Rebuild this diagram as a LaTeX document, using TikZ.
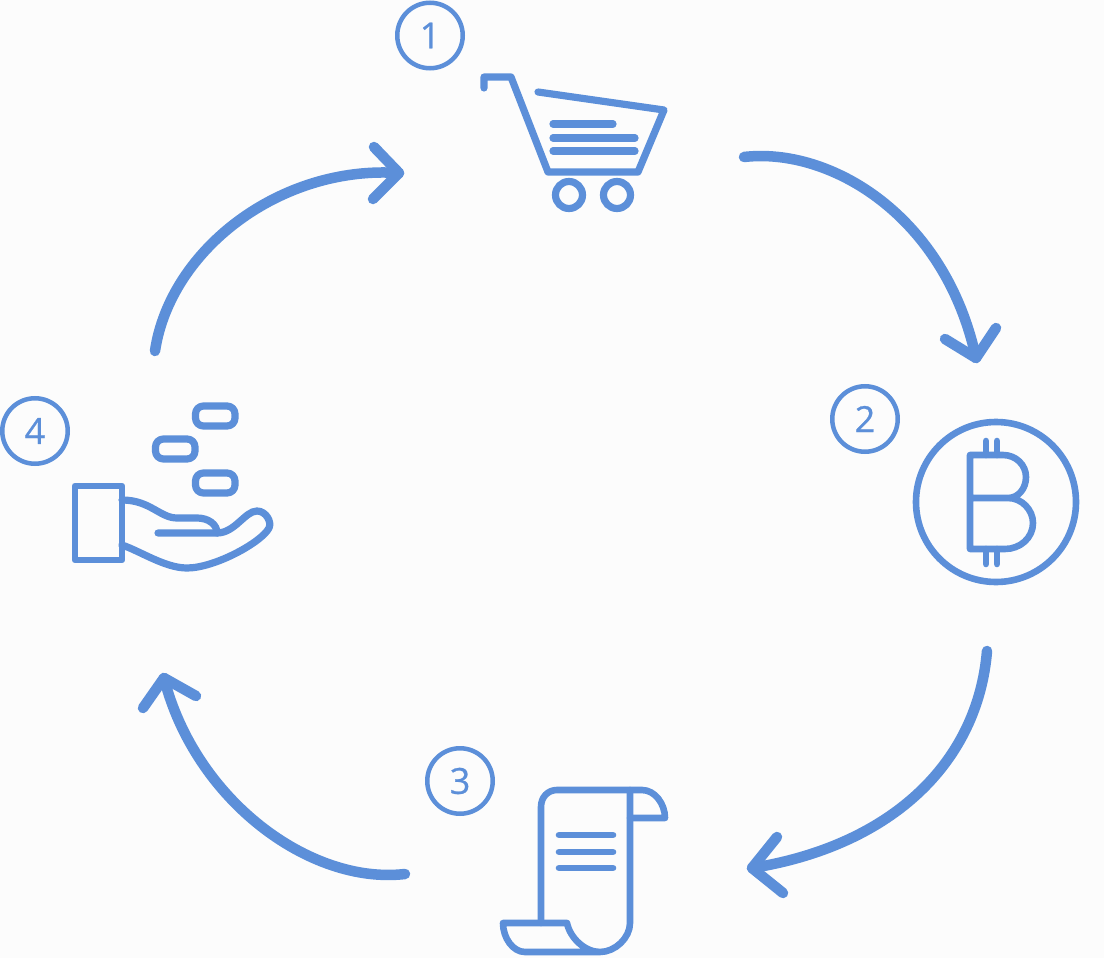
\documentclass[tikz,border=0pt]{standalone}
\usepackage{fontspec}
\setmainfont{Open Sans}
\newfontfamily\numfont[FakeBold=0.7]{Open Sans}
\definecolor{ink}{HTML}{5C8FD9}
\definecolor{paper}{HTML}{FCFCFC}
\tikzset{
  badge/.style={circle,draw=ink,line width=4.5pt,minimum size=65.5pt,inner sep=0pt,text=ink,font=\numfont\fontsize{36}{36}\selectfont},
  flow/.style={draw=ink,line width=10.5pt,line cap=round,line join=round},
  icon/.style={draw=ink,line width=7.2pt,line cap=round,line join=round},
  thinicon/.style={draw=ink,line width=6.6pt,line cap=round,line join=round}
}
\begin{document}
\begin{tikzpicture}[x=1pt,y=-1pt]
\path[use as bounding box,fill=paper] (0,0) rectangle (1104,958);
% badges
\node[badge] (n1) at (430,35.5) {1};
\node[badge] (n2) at (865,419) {2};
\node[badge] (n3) at (460,781) {3};
\node[badge] (n4) at (35,431) {4};
% arrows
\coordinate (a1s) at (744,157); \coordinate (a1e) at (976,358);
\coordinate (a2s) at (987,651); \coordinate (a2e) at (752,868);
\coordinate (a3s) at (405,874); \coordinate (a3e) at (164,678);
\coordinate (a4s) at (155,351); \coordinate (a4e) at (399,173);
\draw[flow] (a1s) .. controls (830,147) and (945,215) .. (a1e);
\draw[flow] (945,339) -- (a1e) -- (996,328);
\draw[flow] (a2s) .. controls (978,760) and (895,845) .. (a2e);
\draw[flow] (777,837) -- (a2e) -- (783,893);
\draw[flow] (a3s) .. controls (310,885) and (195,800) .. (a3e);
\draw[flow] (143,708) -- (a3e) -- (196,696);
\draw[flow] (a4s) .. controls (170,250) and (280,165) .. (a4e);
\draw[flow] (374,147) -- (a4e) -- (373,199);
% cart
\draw[icon] (484,88) -- (484,77) -- (511,77) -- (548,172) -- (638,172) -- (664,110) -- (538,92);
\draw[icon] (569,195) circle (13.5);
\draw[icon] (617,195) circle (13.5);
\draw[icon] (553,124) -- (613,124);
\draw[icon] (553,138) -- (635,138);
\draw[icon] (553,151) -- (635,151);
% bitcoin
\draw[thinicon] (996,502) circle (80);
\draw[thinicon] (1008,498) -- (970,498) -- (970,455) -- (1003,455)
  .. controls (1016,455) and (1026,465) .. (1026,477)
  .. controls (1026,489) and (1018,498) .. (1008,498)
  .. controls (1022,498) and (1033,510) .. (1033,523)
  .. controls (1033,538) and (1020,549) .. (1005,549) -- (970,549) -- (970,498);
\draw[thinicon] (986,441) -- (986,455) (997,441) -- (997,455);
\draw[thinicon] (986,549) -- (986,564) (997,549) -- (997,564);
% scroll
\draw[thinicon] (541,923) -- (541,807) .. controls (541,797) and (548,790) .. (557,790) -- (642,790)
  .. controls (655,790) and (665,804) .. (665,818) -- (630,818);
\draw[thinicon] (630,790) -- (630,923) .. controls (630,938) and (615,952) .. (600,952) -- (525,952)
  .. controls (513,952) and (503,938) .. (503,923) -- (567,923)
  .. controls (570,938) and (585,952) .. (600,952);
\draw[thinicon] (559,835) -- (613,835) (559,852) -- (613,852) (559,868) -- (613,868);
% hand
\draw[thinicon] (75,486) rectangle (122,560);
\draw[icon] (122,500) .. controls (150,500) and (160,518) .. (177,518) -- (197,518)
  .. controls (208,518) and (217,524) .. (217,533);
\draw[icon] (158,533) -- (217,533) .. controls (235,533) and (245,511) .. (257,511)
  .. controls (266,511) and (272,522) .. (269,528)
  .. controls (262,542) and (215,568) .. (187,568)
  .. controls (165,568) and (140,551) .. (122,545);
\draw[icon,rounded corners=8pt] (195.5,406) rectangle (235,426);
\draw[icon,rounded corners=8pt] (155.5,439) rectangle (195,459);
\draw[icon,rounded corners=8pt] (195.5,473) rectangle (235,493);
\end{tikzpicture}
\end{document}
